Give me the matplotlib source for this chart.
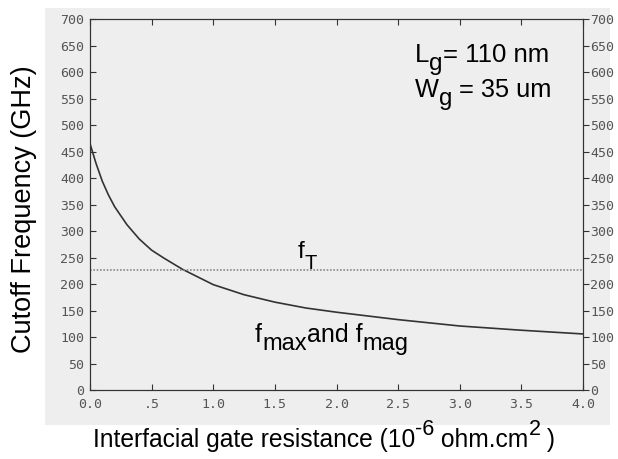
import matplotlib.pyplot as plt
from matplotlib.patches import Rectangle
from matplotlib.transforms import offset_copy

# Interfacial gate resistance (1e-6 ohm.cm^2) vs cutoff frequency (GHz)
r_gate = [0.0, 0.05, 0.1, 0.15, 0.2, 0.3, 0.4, 0.5, 0.6, 0.75,
          1.0, 1.25, 1.5, 1.75, 2.0, 2.5, 3.0, 3.5, 4.0]
f_max = [465, 427, 394, 368, 346, 312, 285, 264, 249, 228,
         199, 180, 166, 155, 147, 133, 121, 113, 106]
f_t = 226

x_ticks = [0.0, 0.5, 1.0, 1.5, 2.0, 2.5, 3.0, 3.5, 4.0]
x_labels = ['0.0', '.5', '1.0', '1.5', '2.0', '2.5', '3.0', '3.5', '4.0']
y_ticks = list(range(0, 701, 50))

plt.rcParams['font.family'] = 'Liberation Sans'
mono = 'DejaVu Sans Mono'
ink = '#333333'
tick_grey = '#555555'

fig = plt.figure(figsize=(6.18, 4.59), dpi=100)
renderer = fig.canvas.get_renderer()


def rich_text(base, x, y, pieces):
    # draw (text, rise_px, size) pieces one after another on the same baseline
    dx = 0
    for txt, rise, size in pieces:
        t = fig.text(x, y, txt, fontsize=size, va='baseline', ha='left',
                     transform=offset_copy(base, fig=fig, x=dx, y=rise, units='dots'))
        dx += t.get_window_extent(renderer).width


# scanned-page grey background behind the plot
fig.patches.append(Rectangle((0.073, 0.074), 0.914, 0.908, transform=fig.transFigure,
                             facecolor='#eeeeee', edgecolor='none', zorder=-5))

ax = fig.add_axes([0.1456, 0.150, 0.7978, 0.8086])
ax.set_facecolor('#eeeeee')
ax.plot(r_gate, f_max, color=ink, linewidth=1.2)
ax.axhline(f_t, color='#888888', linewidth=1.2, linestyle=(0, (1, 1)))

ax.set_xlim(0, 4)
ax.set_ylim(0, 700)
ax.set_xticks(x_ticks)
ax.set_xticklabels(x_labels, fontfamily=mono, fontsize=9.5, color=tick_grey)
ax.set_yticks(y_ticks)
ax.set_yticklabels([str(v) for v in y_ticks], fontfamily=mono, fontsize=9.5, color=tick_grey)
ax.tick_params(direction='in', length=4, color=ink, top=True)
ax.tick_params(axis='x', pad=6)
ax.tick_params(axis='y', pad=4)
for s in ax.spines.values():
    s.set_color(ink)

ax2 = ax.twinx()
ax2.set_ylim(0, 700)
ax2.set_yticks(y_ticks)
ax2.set_yticklabels([str(v) for v in y_ticks], fontfamily=mono, fontsize=9.5, color=tick_grey)
ax2.tick_params(direction='out', length=4, color=ink, pad=1)
for s in ax2.spines.values():
    s.set_color(ink)

fig.text(0.039, 0.545, 'Cutoff Frequency (GHz)', fontsize=19.5, rotation=90,
         ha='center', va='center')
rich_text(fig.transFigure, 0.150, 0.026,
          [('Interfacial gate resistance (10', 0, 17.7), ('-6', 12, 15.5),
           (' ohm.cm', 0, 17.7), ('2', 12, 15.5), (' )', 0, 17.7)])

rich_text(ax.transData, 2.637, 619, [('L', 0, 18.5), ('g', -8, 17.5), ('= 110 nm', 0, 18.5)])
rich_text(ax.transData, 2.637, 553, [('W', 0, 18.3), ('g', -8, 17.3), (' = 35 um', 0, 18.3)])
rich_text(ax.transData, 1.688, 249, [('f', 0, 17.5), ('T', -11, 14.5)])
rich_text(ax.transData, 1.339, 91, [('f', 0, 18), ('max', -8, 17), ('and f', 0, 18),
                                    ('mag', -8, 17)])

fig.savefig('out.png', dpi=100)
